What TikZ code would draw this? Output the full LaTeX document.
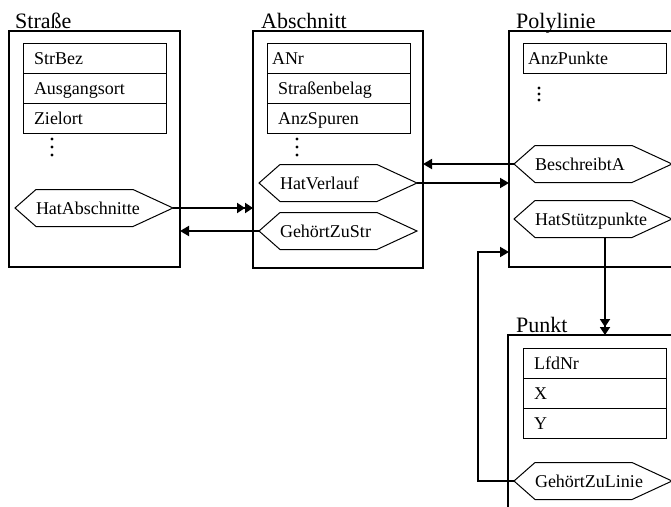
\documentclass[tikz,border=0pt]{standalone}
\usepackage{fontspec}
\setmainfont{Liberation Serif}
\usepackage{tikz}
\usetikzlibrary{arrows.meta,positioning}
\newcommand{\titlefont}{\fontsize{22}{24}\selectfont}
\newcommand{\attrfont}{\fontsize{18}{20}\selectfont}
\tikzset{
  entity/.style={draw, line width=1.2pt, anchor=north west, inner sep=0pt, outer sep=0pt},
  entitytitle/.style={anchor=base west, inner sep=0pt, font=\titlefont},
  attr/.style={draw, line width=1pt, minimum height=30pt, text width=121pt, inner xsep=11pt,
    inner ysep=0pt, outer sep=0pt, align=left, text height=13pt, text depth=1pt, font=\attrfont},
  attrtight/.style={attr, text width=133pt, inner xsep=5pt},
  relship/.style={anchor=west, minimum height=37pt, text width=116pt, inner xsep=21pt,
    inner ysep=0pt, outer sep=0pt, align=left, text height=13pt, text depth=1pt, font=\attrfont},
  hexline/.style={line width=1pt},
  conn/.style={line width=1.8pt},
  toone/.style={conn, -{Triangle[length=9pt,width=10pt]}},
  tomany/.style={conn, -{Triangle[length=8pt,width=10pt]Triangle[length=8pt,width=10pt]}}
}
\begin{document}
\begin{tikzpicture}[x=1pt, y=-1pt]
\useasboundingbox (0,0) rectangle (671,506);
%%%%% Entities %%%%%
\node[entity, minimum width=171pt, minimum height=236pt] (strasse) at (9,31) {};
\node[entity, minimum width=170pt, minimum height=237pt] (abschnitt) at (253,31) {};
\node[entity, minimum width=200pt, minimum height=236pt] (polylinie) at (509,31) {};
\node[entity, minimum width=200pt, minimum height=200pt] (punkt) at (508,335) {};
\node[entitytitle] (strassetitle) at ([xshift=6pt,yshift=3pt]strasse.north west) {Straße};
\node[entitytitle] (abschnitttitle) at ([xshift=8pt,yshift=3pt]abschnitt.north west) {Abschnitt};
\node[entitytitle] (polylinietitle) at ([xshift=7pt,yshift=3pt]polylinie.north west) {Polylinie};
\node[entitytitle] (punkttitle) at ([xshift=8pt,yshift=3pt]punkt.north west) {Punkt};
%%%%% Attributes %%%%%
\node[attr, below right=12pt and 14pt of strasse.north west] (strbez) {StrBez};
\node[attr, below=0pt of strbez] (ausgangsort) {Ausgangsort};
\node[attr, below=0pt of ausgangsort] (zielort) {Zielort};
\node[attrtight, below right=12pt and 14pt of abschnitt.north west] (anr) {ANr};
\node[attr, below=0pt of anr] (belag) {Straßenbelag};
\node[attr, below=0pt of belag] (spuren) {AnzSpuren};
\node[attrtight, below right=12pt and 14pt of polylinie.north west] (anzpunkte) {AnzPunkte};
\node[attr, below right=13pt and 15pt of punkt.north west] (lfdnr) {LfdNr};
\node[attr, below=0pt of lfdnr] (xkoord) {X};
\node[attr, below=0pt of xkoord] (ykoord) {Y};
\foreach \x/\y/\d in {52/139/8, 297/139/8, 539/88/6}{
  \foreach \k in {0,1,2}
    \fill (\x,{\y+\k*\d}) circle (1.6pt);
}
%%%%% Relationships %%%%%
\node[relship] (hatabschnitte) at (15,208) {HatAbschnitte};
\node[relship] (hatverlauf) at (259,183) {HatVerlauf};
\node[relship] (gehoertzustr) at (259,231) {GehörtZuStr};
\node[relship] (beschreibta) at (514,164) {BeschreibtA};
\node[relship] (hatstuetz) at (514,219) {HatStützpunkte};
\node[relship] (gehoertzulinie) at (514,481) {GehörtZuLinie};
\foreach \n in {hatabschnitte,hatverlauf,gehoertzustr,beschreibta,hatstuetz,gehoertzulinie}{
  \draw[hexline] (\n.west) -- ([xshift=21pt]\n.north west) -- ([xshift=-40pt]\n.north east)
    -- (\n.east) -- ([xshift=-40pt]\n.south east) -- ([xshift=21pt]\n.south west) -- cycle;
}
%%%%% Connectors %%%%%
\coordinate (stuetzfoot) at ([xshift=12pt]hatstuetz.south);
\draw[tomany] (hatabschnitte.east) -- (hatabschnitte.east -| abschnitt.west);
\draw[toone] (gehoertzustr.west) -- (gehoertzustr.west -| strasse.east);
\draw[toone] (beschreibta.west) -- (beschreibta.west -| abschnitt.east);
\draw[toone] (hatverlauf.east) -- (hatverlauf.east -| polylinie.west);
\draw[tomany] (stuetzfoot) -- (stuetzfoot |- punkt.north);
\draw[toone] (gehoertzulinie.west) -- ++(-36,0) |- ([yshift=15pt]polylinie.south west);
\end{tikzpicture}
\end{document}
